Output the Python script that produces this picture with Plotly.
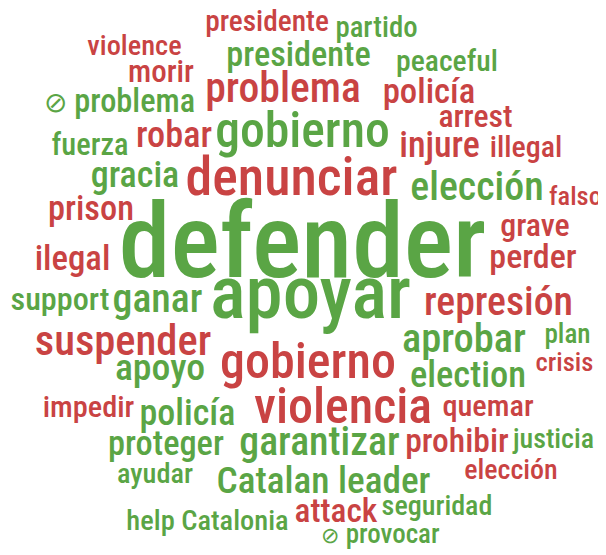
import plotly.graph_objects as go

words = ["presidente", "partido", "violence", "presidente", "peaceful", "morir",
         "problema", "<span style='font-size:28px'>⊘</span> problema", "policía", "arrest",
         "robar", "gobierno", "injure", "illegal", "fuerza", "gracia", "denunciar",
         "elección", "falso", "prison", "defender", "grave", "ilegal", "perder",
         "support", "ganar", "apoyar", "represión", "suspender", "gobierno", "aprobar",
         "plan", "crisis", "apoyo", "election", "impedir", "policía", "violencia",
         "quemar", "proteger", "garantizar", "prohibir", "justicia", "ayudar",
         "Catalan leader", "elección", "attack", "seguridad", "help Catalonia",
         "<span style='font-size:22px'>⊘</span> provocar"]
group = ["neg", "pos", "neg", "pos", "pos", "neg",
         "neg", "pos", "neg", "neg",
         "neg", "pos", "neg", "neg", "pos", "pos", "neg",
         "pos", "neg", "neg", "pos", "neg", "neg", "neg",
         "pos", "pos", "pos", "neg", "neg", "neg", "pos",
         "pos", "neg", "pos", "pos", "neg", "pos", "neg",
         "neg", "pos", "pos", "neg", "pos", "pos",
         "pos", "neg", "neg", "pos", "pos",
         "pos"]
x_pos = [267, 376.5, 134.5, 298.5, 447, 161,
         283, 119.5, 429, 475.5,
         174, 302.5, 439.5, 526, 90, 135, 291.5,
         477, 575.5, 91, 302.5, 535, 72.5, 533,
         60, 157.5, 310.5, 498.5, 123, 308, 464,
         567.5, 564.5, 160, 468, 88.5, 187.5, 343,
         488, 166, 319.5, 457, 553.5, 155,
         323.5, 511, 336, 437, 207.5,
         380.5]
y_pos = [24, 30, 48, 57, 63.5, 74,
         92, 104, 94, 119,
         138, 134.5, 148, 149.5, 147.5, 178, 181.5,
         190, 198.5, 211.5, 251, 228, 261, 259.5,
         302, 302, 299.5, 305, 344.5, 365.5, 342,
         336, 364, 370.5, 378, 409, 416, 410.5,
         408, 446, 445, 443.5, 441, 476,
         483.5, 472, 513.5, 508, 523,
         536]
sizes = [29.4, 28.8, 28.4, 34.3, 29.7, 31,
         41.7, 32.4, 34.8, 31.8,
         36.3, 49.7, 36, 30, 30.5, 36.1, 53.9,
         39.9, 26.5, 34.4, 104, 32, 34.8, 34,
         32.2, 39.8, 75, 39.8, 42.6, 50, 40.5,
         27.2, 26.6, 37.8, 36.5, 30.4, 36, 50,
         30.4, 34.4, 39.9, 33.6, 28, 28.4,
         37.3, 28, 33.4, 28.1, 28.5,
         27]

palette = {"pos": "#5AA545", "neg": "#C94343"}
colors = [palette[g] for g in group]

fig = go.Figure(go.Scatter(
    x=x_pos, y=y_pos, text=words, mode="text",
    textposition="middle center",
    textfont=dict(size=sizes, color=colors, family="Roboto Condensed", weight=500),
    hoverinfo="text",
))
fig.update_layout(
    width=606, height=555,
    margin=dict(l=0, r=0, t=0, b=0),
    paper_bgcolor="white", plot_bgcolor="white",
    showlegend=False,
    xaxis=dict(range=[8, 614], visible=False, fixedrange=True),
    yaxis=dict(range=[563, 8], visible=False, fixedrange=True),
)
fig.write_html("out.html")
